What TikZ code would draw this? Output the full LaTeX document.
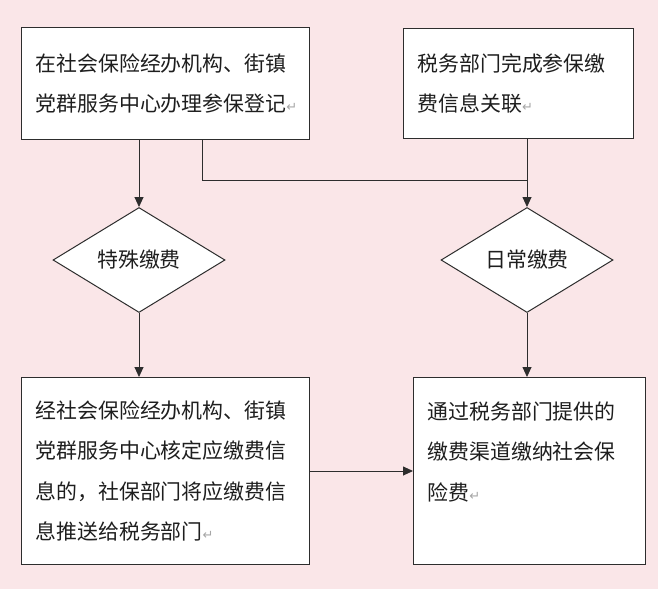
\documentclass[tikz,border=0pt]{standalone}
\usepackage{fontspec}
\setmainfont{Noto Sans CJK SC}
\newfontfamily\symfont{DejaVu Sans}
\usetikzlibrary{shapes.geometric,arrows.meta,calc}
\definecolor{bg}{RGB}{250,230,232}
\definecolor{ln}{RGB}{45,45,45}
\definecolor{tx}{RGB}{30,30,30}
\newcommand{\retmark}{{\symfont\color{black!35}\fontsize{13}{13}\selectfont ↵}}
\begin{document}
\begin{tikzpicture}[x=1pt,y=-1pt,
  box/.style={draw=ln, line width=1pt, fill=white, rectangle, anchor=north west,
    inner xsep=14pt, inner ysep=0pt, align=left,
    font=\fontsize{20.9}{40.5}\selectfont, text=tx},
  dia/.style={draw=ln, line width=1pt, fill=white, diamond, inner sep=0pt,
    minimum width=172pt, minimum height=105pt,
    font=\fontsize{20.9}{24}\selectfont, text=tx},
  arr/.style={draw=ln, line width=0.9pt, -{Triangle[length=10pt,width=9pt]}},
  conn/.style={draw=ln, line width=0.9pt}]
\fill[bg] (0,0) rectangle (658,589);
\useasboundingbox (0,0) rectangle (658,589);

\node[box, text width=260pt, minimum width=288pt, minimum height=112pt] (b1) at (21,27)
  {在社会保险经办机构、街镇\\党群服务中心办理参保登记\retmark};
\node[box, text width=202pt, minimum width=230pt, minimum height=110pt] (b2) at (403,28)
  {税务部门完成参保缴\\费信息关联\retmark};
\node[dia] (d1) at (139,260) {特殊缴费};
\node[dia] (d2) at (527,260) {日常缴费};
\node[box, text width=260pt, minimum width=288pt, minimum height=187pt] (b3) at (21,377)
  {经社会保险经办机构、街镇\\党群服务中心核定应缴费信\\息的，社保部门将应缴费信\\息推送给税务部门\retmark};
\node[box, text width=204pt, minimum width=232pt, minimum height=187pt] (b4) at (413,377)
  {通过税务部门提供的\\缴费渠道缴纳社会保\\险费\retmark\\\mbox{}};

\coordinate (tap) at (202,139);
\coordinate (joint) at (527,180);

\draw[arr] (d1.north |- b1.south) -- (d1.north);
\draw[arr] (d1.south) -- (d1.south |- b3.north);
\draw[arr] (d2.north |- b2.south) -- (d2.north);
\draw[conn] (tap) |- (joint);
\draw[arr] (d2.south) -- (d2.south |- b4.north);
\draw[arr] (b3.east) -- (b3.east -| b4.west);
\end{tikzpicture}
\end{document}
